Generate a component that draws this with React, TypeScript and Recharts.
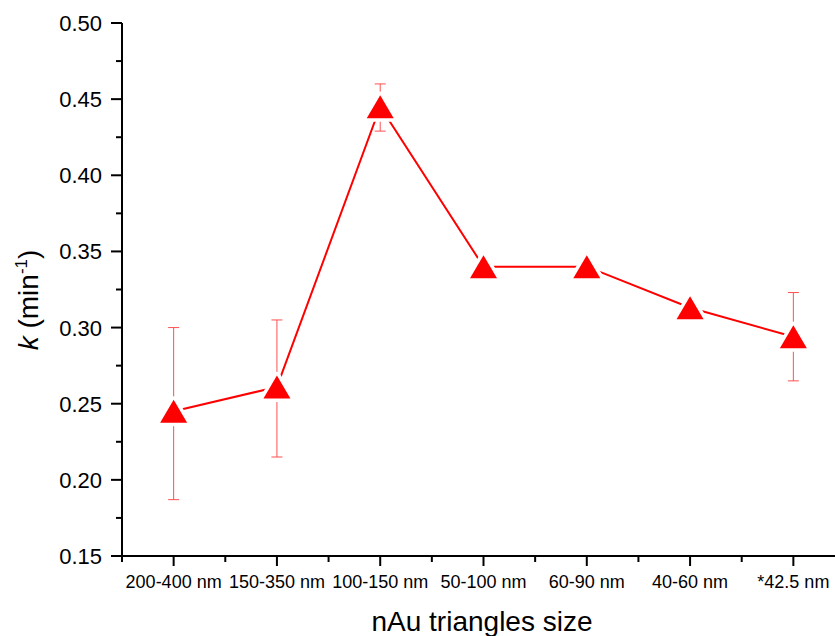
import React from 'react';
import { LineChart, Line, XAxis, YAxis, ErrorBar, Label } from 'recharts';

const categories = ['200-400 nm', '150-350 nm', '100-150 nm', '50-100 nm', '60-90 nm', '40-60 nm', '*42.5 nm'];
const kValues = [0.245, 0.261, 0.445, 0.34, 0.34, 0.313, 0.294];
const errLow = [0.058, 0.046, 0.016, 0, 0, 0, 0.029];
const errHigh = [0.055, 0.044, 0.015, 0, 0, 0, 0.029];
const xTicks = [-0.5, 0, 0.5, 1, 1.5, 2, 2.5, 3, 3.5, 4, 4.5, 5, 5.5, 6, 6.5];
const yTicks = [0.15, 0.175, 0.2, 0.225, 0.25, 0.275, 0.3, 0.325, 0.35, 0.375, 0.4, 0.425, 0.45, 0.475, 0.5];

const data = categories.map((c, i) => ({ idx: i, name: c, k: kValues[i], err: [errLow[i], errHigh[i]] }));

const FONT = '"Liberation Sans", Arial, Helvetica, sans-serif';

const XTick = (props: any) => {
  const { x, y, payload } = props;
  const v = payload.value;
  const major = Number.isInteger(v);
  return (
    <g>
      <line x1={x} x2={x} y1={y} y2={y + (major ? 10 : 6)} stroke="#000" strokeWidth={2} />
      {major && (
        <text x={x} y={y + 32} textAnchor="middle" fontSize={18} fontFamily={FONT} fill="#000">
          {categories[v]}
        </text>
      )}
    </g>
  );
};

const YTick = (props: any) => {
  const { x, y, payload, index } = props;
  const major = index % 2 === 0;
  return (
    <g>
      <line x1={x - (major ? 11 : 6)} x2={x} y1={y} y2={y} stroke="#000" strokeWidth={2} />
      {major && (
        <text x={x - 20} y={y + 8} textAnchor="end" fontSize={22} fontFamily={FONT} fill="#000">
          {Number(payload.value).toFixed(2)}
        </text>
      )}
    </g>
  );
};

const TriDot = (props: any) => {
  const { cx, cy, index } = props;
  if (cx == null || cy == null) return <g key={index} />;
  const w = 13.5;
  const h = 11.5;
  const pts = `${cx},${cy - h} ${cx + w},${cy + h} ${cx - w},${cy + h}`;
  return (
    <g key={index}>
      <polygon points={pts} fill="#fff" stroke="#fff" strokeWidth={7} strokeLinejoin="round" />
      <polygon points={pts} fill="#ff0000" stroke="none" />
    </g>
  );
};

const YLabel = () => (
  <text transform="rotate(-90, 38, 300)" x={38} y={300} textAnchor="middle" fontSize={28} fontFamily={FONT} fill="#000">
    <tspan fontStyle="italic">k</tspan>
    <tspan> (min</tspan>
    <tspan fontSize={17} dy={-11}>-1</tspan>
    <tspan dy={11}>)</tspan>
  </text>
);

const XLabel = () => (
  <text x={482} y={631} textAnchor="middle" fontSize={28} fontFamily={FONT} fill="#000">
    nAu triangles size
  </text>
);

export default function App() {
  return (
    <div style={{ position: 'absolute', left: 0, top: 0, width: 835, height: 636, overflow: 'hidden', background: '#fff' }}>
      <LineChart width={870} height={636} data={data} margin={{ top: 23, right: 25, bottom: 0, left: 0 }}>
        <XAxis
          type="number"
          dataKey="idx"
          domain={[-0.5, 6.5]}
          ticks={xTicks}
          interval={0}
          tick={<XTick />}
          tickLine={false}
          tickSize={0}
          tickMargin={0}
          axisLine={{ stroke: '#000', strokeWidth: 2 }}
          allowDataOverflow
          height={80}
        >
          <Label content={<XLabel />} />
        </XAxis>
        <YAxis
          type="number"
          domain={[0.15, 0.5]}
          ticks={yTicks}
          interval={0}
          tick={<YTick />}
          tickLine={false}
          tickSize={0}
          tickMargin={0}
          axisLine={{ stroke: '#000', strokeWidth: 2 }}
          allowDataOverflow
          width={122}
        >
          <Label content={<YLabel />} />
        </YAxis>
        <Line
          type="linear"
          dataKey="k"
          stroke="#ff0000"
          strokeWidth={2}
          dot={false}
          activeDot={false}
          isAnimationActive={false}
        >
          <ErrorBar dataKey="err" direction="y" width={5.5} stroke="#ff5050" strokeWidth={1} isAnimationActive={false} />
        </Line>
        <Line
          type="linear"
          dataKey="k"
          stroke="none"
          dot={<TriDot />}
          activeDot={false}
          isAnimationActive={false}
        />
      </LineChart>
    </div>
  );
}
